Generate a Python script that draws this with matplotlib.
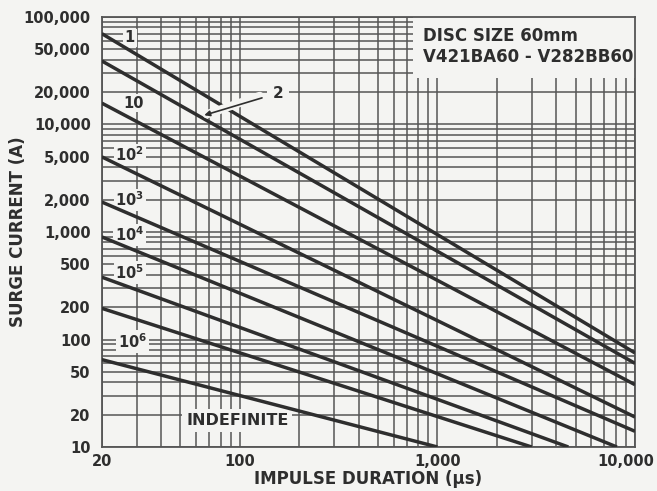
import matplotlib
matplotlib.use('Agg')
import matplotlib.pyplot as plt
from matplotlib.ticker import FixedLocator, NullFormatter
from matplotlib.patches import Rectangle
from matplotlib.transforms import ScaledTranslation

# surge rating curves: straight lines on log-log, start at 20 us
curve_names = ['1', '2', '10', '10^2', '10^3', '10^4', '10^5', '10^6', 'INDEFINITE']
t_start = [20, 20, 20, 20, 20, 20, 20, 20, 20]
i_start = [70000, 39000, 15800, 5000, 1900, 900, 380, 195, 65]
t_end = [10000, 10000, 10000, 10000, 10000, 8100, 4600, 3000, 1000]
i_end = [75, 60, 38, 19, 14, 10, 10, 10, 10]

# curve labels inside the plot
label_text = ['1', '10', '10$^{\\mathbf{2}}$', '10$^{\\mathbf{3}}$', '10$^{\\mathbf{4}}$',
              '10$^{\\mathbf{5}}$', '10$^{\\mathbf{6}}$']
label_t = [27.7, 29, 27.7, 27.7, 27.7, 27.7, 28.6]
label_i = [64000, 15800, 5200, 2000, 940, 420, 96]

y_ticks = [10, 20, 50, 100, 200, 500, 1000, 2000, 5000, 10000, 20000, 50000, 100000]
y_ticklabels = ['10', '20', '50', '100', '200', '500', '1,000', '2,000', '5,000',
                '10,000', '20,000', '50,000', '100,000']
x_ticks = [20, 100, 1000, 10000]
x_ticklabels = ['20', '100', '1,000', '10,000']

bg = '#f4f4f2'
ink = '#2e2e2e'
gridc = '#555555'

fig = plt.figure(figsize=(6.57, 4.91), dpi=100, facecolor=bg)
ax = fig.add_axes([0.155, 0.0896, 0.8115, 0.8758])
ax.set_facecolor(bg)
ax.set_xscale('log')
ax.set_yscale('log')
ax.set_xlim(20, 10000)
ax.set_ylim(10, 100000)

# log grid, every 1..9 of each decade
x_minor = [m * 10**d for d in range(1, 4) for m in range(1, 10)] + [10000]
y_minor = [m * 10**d for d in range(1, 5) for m in range(1, 10)] + [100000]
ax.xaxis.set_major_locator(FixedLocator(x_ticks))
ax.xaxis.set_minor_locator(FixedLocator(x_minor))
ax.yaxis.set_major_locator(FixedLocator(y_ticks))
ax.yaxis.set_minor_locator(FixedLocator(y_minor))
ax.set_xticklabels(x_ticklabels, fontweight='bold')
ax.set_yticklabels(y_ticklabels, fontweight='bold')
ax.xaxis.set_minor_formatter(NullFormatter())
ax.yaxis.set_minor_formatter(NullFormatter())
ax.grid(True, which='both', color=gridc, linewidth=1.1, zorder=1)
ax.tick_params(which='both', length=0, labelsize=10.5, labelcolor=ink)
ax.tick_params(axis='y', pad=8)
ax.tick_params(axis='x', pad=5)
for s in ax.spines.values():
    s.set_color(gridc)
    s.set_linewidth(1.3)

# last x label sits against the right edge of the sheet
last = ax.get_xticklabels()[-1]
last.set_transform(last.get_transform() + ScaledTranslation(-7 / 72, 0, fig.dpi_scale_trans))

for k in range(len(curve_names)):
    ax.plot([t_start[k], t_end[k]], [i_start[k], i_end[k]], color=ink,
            linewidth=2.5, solid_capstyle='butt', zorder=4)

box = dict(boxstyle='square,pad=0.12', fc=bg, ec='none')
for txt, t, i in zip(label_text, label_t, label_i):
    ax.text(t, i, txt, fontsize=10.5, fontweight='bold', color=ink,
            ha='center', va='center', bbox=box, zorder=3)
ax.text(97, 17.8, 'INDEFINITE', fontsize=11.5, fontweight='bold', color=ink,
        ha='center', va='center', bbox=dict(boxstyle='square,pad=0.25', fc=bg, ec='none'),
        zorder=3)

# "2" with leader arrow (background coloured underlay cuts curve 1)
ax.annotate('', xy=(66, 12200), xytext=(130, 18800),
            arrowprops=dict(arrowstyle='-', color=bg, lw=6), zorder=5)
ax.annotate('2', xy=(66, 12200), xytext=(156, 19600), fontsize=11, fontweight='bold',
            color=ink, ha='center', va='center',
            bbox=dict(boxstyle='square,pad=0.35', fc=bg, ec='none'),
            arrowprops=dict(arrowstyle='-|>', color=ink, lw=1.2, mutation_scale=8,
                            shrinkA=4, shrinkB=0), zorder=6)

# title block in the top right, grid hidden behind it
ax.add_patch(Rectangle((0.583, 0.858), 0.417, 0.142, transform=ax.transAxes,
                       fc=bg, ec='none', zorder=2))
ax.text(0.602, 0.977, 'DISC SIZE 60mm\nV421BA60 - V282BB60', transform=ax.transAxes,
        fontsize=12, fontweight='bold', color=ink, ha='left', va='top',
        linespacing=1.25, zorder=6)

ax.set_ylabel('SURGE CURRENT (A)', fontsize=12, fontweight='bold', color=ink)
ax.yaxis.set_label_coords(-0.141, 0.5)
ax.set_xlabel('IMPULSE DURATION (\u00b5s)', fontsize=12, fontweight='bold', color=ink,
              labelpad=1)

fig.savefig('out.png', dpi=100, facecolor=bg)
